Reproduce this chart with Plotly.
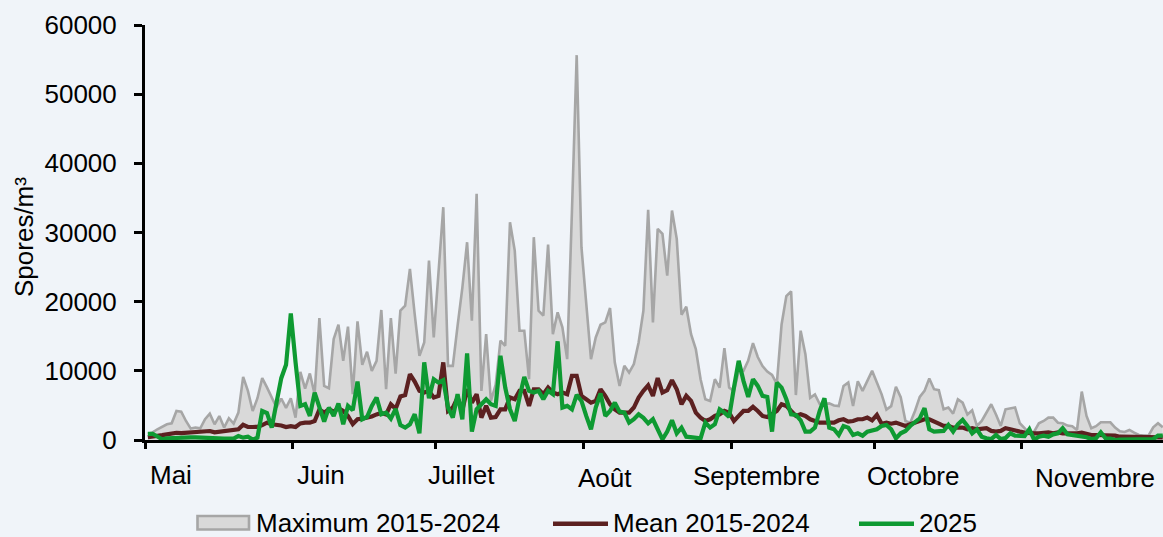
import pandas as pd
import plotly.graph_objects as go

# ---------------- DATA ----------------
start_date = "2025-05-01 14:24"   # daily values, 1 May -> 30 Nov

max_2015_2024 = [
    900, 1100, 1550, 1880, 2270, 2420, 4200, 4100, 2750, 1650,
    1800, 1700, 3000, 3800, 2270, 3460, 1800, 3150, 2370, 3960,
    9130, 7100, 4200, 6040, 8940, 7600, 6140, 4700, 6000, 4650,
    6040, 3230, 9840, 7440, 9620, 6620, 17630, 7830, 7490, 14600,
    16670, 11450, 16400, 6620, 17150, 10870, 12750, 10000, 11450, 18800,
    7350, 17630, 9600, 18700, 19420, 24730, 18210, 12170, 14100, 25940,
    14830, 24000, 33660, 10720, 10720, 16500, 22000, 28590, 17240, 35600,
    7100, 15310, 5650, 8000, 14350, 13620, 31490, 27390, 15800, 15800,
    8790, 29320, 18690, 17970, 28260, 15310, 18450, 16280, 11690, 33000,
    55640, 27870, 19660, 11690, 14830, 16660, 17000, 19080, 11200, 7820,
    10720, 9750, 10970, 14100, 18690, 33280, 17000, 30530, 29800, 23760,
    33180, 29080, 18110, 19270, 15310, 13140, 8790, 5890, 5650, 8790,
    7580, 13280, 7580, 7050, 10000, 10000, 11500, 14000, 12000, 10700,
    9900, 9400, 8100, 16700, 20800, 21500, 6500, 15800, 12400, 6100,
    6600, 5200, 5200, 5300, 5000, 4900, 7800, 8300, 4900, 8500,
    7100, 8500, 10000, 8300, 6600, 4400, 4900, 7700, 6200, 2750,
    2500, 4200, 6230, 7100, 8890, 7340, 7200, 4440, 4700, 3820,
    5890, 5400, 3680, 4300, 2030, 2750, 3960, 5170, 3680, 2030,
    4440, 4540, 4700, 2420, 1700, 1000, 1200, 2420, 2750, 3240,
    3240, 2500, 2420, 2080, 2000, 1450, 7000, 3480, 1700, 2000,
    2560, 2560, 2560, 1790, 1260, 1160, 1450, 1060, 720, 630,
    630, 1840, 2420, 1840,
]

mean_2015_2024 = [
    400, 450, 550, 700, 820, 950, 1050, 1000, 1050, 1060,
    1060, 1060, 1200, 1300, 1100, 1200, 1300, 1350, 1450, 1550,
    2200, 1900, 1880, 1900, 2150, 2500, 2270, 2200, 2100, 1880,
    2000, 1880, 2400, 2500, 2510, 2750, 4400, 3960, 4440, 4100,
    4590, 4200, 3480, 2300, 3000, 3100, 3240, 3400, 3700, 3900,
    3700, 5170, 4500, 6300, 6500, 9520, 8450, 7100, 6860, 7100,
    6140, 6380, 11230, 4200, 4690, 6140, 4300, 7340, 5400, 6620,
    3240, 4930, 3240, 3330, 4440, 4440, 6140, 5890, 7100, 7100,
    4930, 7340, 7340, 6620, 7580, 6860, 6620, 6860, 6620, 9270,
    9270, 6380, 5890, 5400, 5650, 7340, 6380, 5170, 4440, 3960,
    3960, 3960, 4690, 6140, 7100, 7900, 6380, 8940, 6860, 7200,
    8650, 7340, 5170, 6380, 5650, 3960, 3240, 2750, 3000, 3480,
    3720, 4200, 3960, 2750, 3480, 4200, 4200, 4790, 4200, 3480,
    3330, 3720, 4200, 5170, 4930, 4200, 3480, 3720, 3480, 3000,
    2750, 2510, 2510, 2510, 2510, 2850, 3000, 2660, 2750, 3000,
    3000, 3240, 2850, 3620, 2360, 2510, 2360, 2510, 2270, 2030,
    2270, 2510, 2750, 3000, 3000, 2750, 2360, 2030, 2030, 1790,
    1790, 1790, 1550, 1700, 1550, 1700, 1700, 1310, 1210, 1310,
    1700, 1550, 1310, 1210, 1060, 970, 970, 970, 1060, 1110,
    970, 1110, 970, 970, 820, 970, 1060, 820, 720, 720,
    720, 630, 580, 630, 480, 480, 430, 430, 390, 390,
    390, 390, 390, 390,
]

values_2025 = [
    900, 900, 500, 100, 240, 290, 340, 435, 340, 390,
    390, 340, 435, 340, 240, 190, 190, 190, 190, 580,
    340, 480, 50, 340, 4200, 3910, 1790, 5400, 8940, 10870,
    18310, 11210, 4930, 5170, 3480, 6860, 4930, 2660, 4690, 3480,
    5270, 2270, 4930, 4300, 8450, 3000, 3330, 4930, 6140, 3720,
    3960, 3100, 4500, 2150, 1790, 2270, 3720, 970, 11230, 6040,
    8790, 8300, 8650, 4690, 3240, 6620, 3000, 12530, 1210, 4440,
    5170, 5890, 5170, 4930, 12190, 7580, 4440, 2750, 6140, 9130,
    7100, 6860, 7100, 5890, 7100, 6620, 14270, 4690, 4930, 4440,
    6520, 5650, 3480, 1550, 4690, 6720, 3480, 4200, 5400, 4100,
    3960, 2510, 3000, 3720, 3200, 2400, 3000, 1550, 100, 1210,
    2850, 970, 1790, 480, 390, 240, 240, 2510, 1790, 2270,
    4440, 3960, 3330, 7580, 11450, 8550, 6230, 8790, 7820, 6380,
    6230, 1210, 8300, 7580, 5890, 3720, 3620, 2850, 1210, 1210,
    1790, 4200, 6040, 1790, 1550, 720, 2030, 1790, 720, 970,
    630, 1210, 1310, 1550, 2030, 2170, 1550, 240, 970, 1310,
    2030, 2510, 3140, 4590, 1550, 1210, 1210, 1310, 2170, 1210,
    2270, 2900, 2030, 970, 1550, 480, 240, 140, 720, 140,
    290, 970, 630, 630, 580, 1550, 50, 480, 630, 480,
    820, 970, 1700, 820, 720, 630, 630, 390, 140, 240,
    1110, 240, 190, 0, 50, 50, 0, 50, 0, 0,
    50, 140, 630, 630,
]

month_labels = ["Mai", "Juin", "Juillet", "Août", "Septembre", "Octobre", "Novembre"]
month_starts = ["2025-05-01", "2025-06-01", "2025-07-01", "2025-08-01",
                "2025-09-01", "2025-10-01", "2025-11-01"]
series_names = ["Maximum 2015-2024", "Mean 2015-2024", "2025"]
y_title = "Spores/m³"

dates = pd.date_range(start_date, periods=len(max_2015_2024), freq="D")

# ---------------- STYLE ----------------
BG = "#f0f4f9"
GRAY_LINE = "#a6a6a6"
GRAY_FILL = "#d9d9d9"
BROWN = "#5c2020"
GREEN = "#0e9a32"
FONT = "Liberation Sans, Arial, sans-serif"
FS = 26

W, H = 1163, 537
ML, MR, MT, MB = 145, 0, 25, 97
PW, PH = W - ML - MR, H - MT - MB


def px(xp):
    return (xp - ML) / PW


def py(yp):
    return (H - MB - yp) / PH


fig = go.Figure()
fig.add_trace(go.Scatter(
    x=dates, y=max_2015_2024, name=series_names[0], mode="lines",
    line=dict(color=GRAY_LINE, width=2.6), fill="tozeroy", fillcolor=GRAY_FILL,
))
fig.add_trace(go.Scatter(
    x=dates, y=mean_2015_2024, name=series_names[1], mode="lines",
    line=dict(color=BROWN, width=4.2),
))
fig.add_trace(go.Scatter(
    x=dates, y=values_2025, name=series_names[2], mode="lines",
    line=dict(color=GREEN, width=4.2),
))

annotations = []
# month labels (placed like the original's free-standing labels)
label_px = [(171, 474.5), (321, 474.5), (461, 474.5), (605, 477.5),
            (756, 476), (913, 476), (1094.5, 478.3)]
for lab, (xp, yp) in zip(month_labels, label_px):
    annotations.append(dict(
        text=lab, x=px(xp), y=py(yp), xref="paper", yref="paper",
        xanchor="center", yanchor="middle", showarrow=False,
        font=dict(family=FONT, size=FS, color="black"),
    ))

# y title
annotations.append(dict(
    text=y_title, x=px(24), y=py(237), xref="paper", yref="paper",
    xanchor="center", yanchor="middle", showarrow=False, textangle=-90,
    font=dict(family=FONT, size=FS, color="black"),
))

# legend (manual)
LEG_Y = 522.5
legend_text_x = [254, 611, 917]
for name, xp in zip(series_names, legend_text_x):
    annotations.append(dict(
        text=name, x=px(xp), y=py(LEG_Y), xref="paper", yref="paper",
        xanchor="left", yanchor="middle", showarrow=False,
        font=dict(family=FONT, size=FS, color="black"),
    ))

shapes = [
    dict(type="rect", xref="paper", yref="paper",
         x0=px(197.5), x1=px(249), y0=py(LEG_Y + 7), y1=py(LEG_Y - 6.5),
         fillcolor=GRAY_FILL, line=dict(color=GRAY_LINE, width=2.6)),
    dict(type="line", xref="paper", yref="paper",
         x0=px(553), x1=px(608), y0=py(LEG_Y + 1.2), y1=py(LEG_Y + 1.2),
         line=dict(color=BROWN, width=4.5)),
    dict(type="line", xref="paper", yref="paper",
         x0=px(859), x1=px(914), y0=py(LEG_Y + 1.2), y1=py(LEG_Y + 1.2),
         line=dict(color=GREEN, width=4.5)),
]

fig.update_layout(
    width=W, height=H,
    margin=dict(l=ML, r=MR, t=MT, b=MB, pad=0),
    paper_bgcolor=BG, plot_bgcolor=BG,
    showlegend=False,
    annotations=annotations,
    shapes=shapes,
    font=dict(family=FONT, size=FS, color="black"),
)

fig.update_xaxes(
    type="date",
    range=["2025-05-01 00:00", "2025-11-30 15:36"],
    tickvals=month_starts, showticklabels=False,
    ticks="outside", ticklen=6, tickwidth=2.6, tickcolor="black",
    showline=True, linecolor="black", linewidth=3,
    showgrid=False, zeroline=False,
)
fig.update_yaxes(
    range=[0, 60000], tick0=0, dtick=10000, tickformat="d",
    ticks="outside", ticklen=8, tickwidth=2.6, tickcolor="black",
    showline=True, linecolor="black", linewidth=3,
    showgrid=False, zeroline=False,
    tickfont=dict(family=FONT, size=FS, color="black"),
    ticklabelstandoff=12,
)

fig.write_html(
    "out.html",
    config={"displayModeBar": False},
    post_script="document.body.style.margin='0';document.body.style.overflow='hidden';"
                "document.documentElement.style.background='" + BG + "';",
)
